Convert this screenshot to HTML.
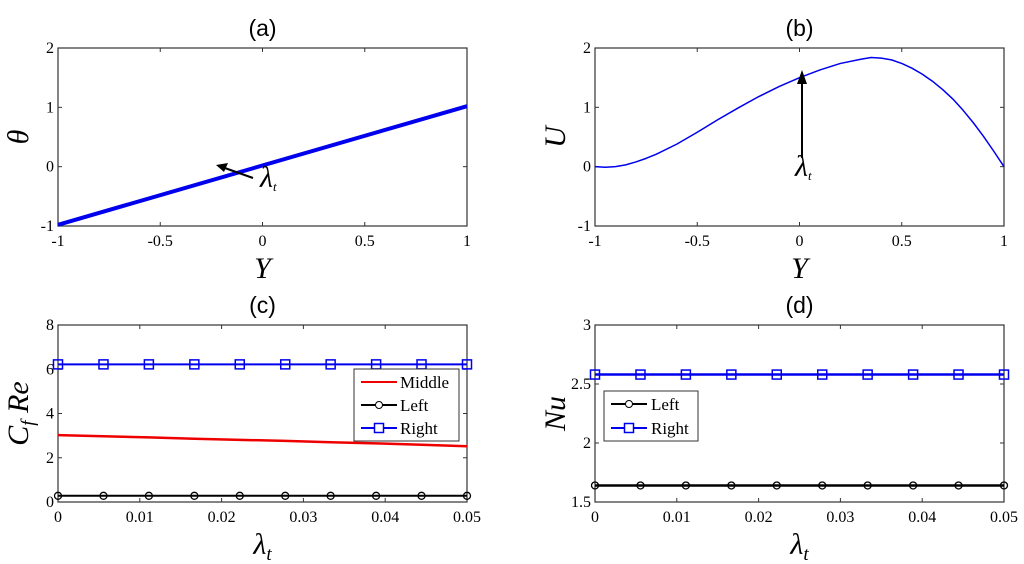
<!DOCTYPE html>
<html><head><meta charset="utf-8"><style>
body{margin:0;background:#fff;}
svg{display:block;}
.tk{font-family:"Liberation Serif",serif;font-size:16px;fill:#000;}
.ttl{font-family:"Liberation Sans",sans-serif;font-size:23px;fill:#000;}
.lab{font-family:"Liberation Serif",serif;font-style:italic;font-size:30px;fill:#000;}
.lg{font-family:"Liberation Serif",serif;font-size:17px;fill:#000;}
</style></head><body>
<svg id="fig" width="1024" height="564" xmlns="http://www.w3.org/2000/svg"></svg>
<script>
const aY=[-1,1];
const aTheta=[-0.98,1.02];
const bY=[-1,-0.95,-0.9,-0.85,-0.8,-0.75,-0.7,-0.6,-0.5,-0.4,-0.3,-0.2,-0.1,0,0.1,0.2,0.3,0.35,0.4,0.45,0.5,0.55,0.6,0.65,0.7,0.75,0.8,0.85,0.9,0.95,1];
const bU=[0,-0.01,0,0.03,0.08,0.14,0.21,0.38,0.58,0.79,0.99,1.18,1.35,1.5,1.63,1.74,1.81,1.84,1.83,1.80,1.74,1.66,1.56,1.44,1.30,1.14,0.95,0.74,0.51,0.26,0];
const lam=[0,0.00556,0.01111,0.01667,0.02222,0.02778,0.03333,0.03889,0.04444,0.05];
const cMiddle=[3.02,2.97,2.92,2.86,2.81,2.76,2.70,2.65,2.59,2.52];
const cLeft=[0.28,0.28,0.28,0.28,0.28,0.28,0.28,0.28,0.28,0.28];
const cRight=[6.22,6.22,6.22,6.22,6.22,6.22,6.22,6.22,6.22,6.22];
const dLeft=[1.64,1.64,1.64,1.64,1.64,1.64,1.64,1.64,1.64,1.64];
const dRight=[2.58,2.58,2.58,2.58,2.58,2.58,2.58,2.58,2.58,2.58];
const xTicksY=[-1,-0.5,0,0.5,1], xTickLabY=["-1","-0.5","0","0.5","1"];
const yTicksAB=[-1,0,1,2], yTickLabAB=["-1","0","1","2"];
const xTicksL=[0,0.01,0.02,0.03,0.04,0.05], xTickLabL=["0","0.01","0.02","0.03","0.04","0.05"];
const yTicksC=[0,2,4,6,8], yTickLabC=["0","2","4","6","8"];
const yTicksD=[1.5,2,2.5,3], yTickLabD=["1.5","2","2.5","3"];

const NS="http://www.w3.org/2000/svg";
const svg=document.getElementById('fig');
function mk(tag,at,parent,txt){const e=document.createElementNS(NS,tag);for(const k in at)e.setAttribute(k,at[k]);if(txt!==undefined)e.textContent=txt;(parent||svg).appendChild(e);return e;}
function axes(name,x0,x1,y0,y1,xd,yd,xt,xl,yt,yl,title,xlab,ylab){
 const g=mk('g',{});
 
 
 const sx=v=>x0+(v-xd[0])/(xd[1]-xd[0])*(x1-x0);
 const sy=v=>y1-(v-yd[0])/(yd[1]-yd[0])*(y1-y0);
 mk('rect',{x:x0,y:y0,width:x1-x0,height:y1-y0,fill:'#fff',stroke:'#333','stroke-width':1.2},g);
 xt.forEach((v,i)=>{const x=sx(v);mk('line',{x1:x,x2:x,y1:y1,y2:y1-4,stroke:'#333'},g);mk('line',{x1:x,x2:x,y1:y0,y2:y0+4,stroke:'#333'},g);
  const t=mk('text',{x:x,y:y1+20,'text-anchor':'middle',class:'tk'},g,xl[i]);});
 yt.forEach((v,i)=>{const y=sy(v);mk('line',{x1:x0,x2:x0+4,y1:y,y2:y,stroke:'#333'},g);mk('line',{x1:x1,x2:x1-4,y1:y,y2:y,stroke:'#333'},g);
  const t=mk('text',{x:x0-4,y:y+5,'text-anchor':'end',class:'tk'},g,yl[i]);});
 const tt=mk('text',{x:(x0+x1)/2,y:y0-12,'text-anchor':'middle',class:'ttl'},g,title);
 
 const xa=mk('text',{x:(x0+x1)/2,y:y1+52,'text-anchor':'middle',class:'lab'},g);xa.innerHTML=xlab;
 
 const ya=mk('text',{x:0,y:0,'text-anchor':'middle',class:'lab',transform:`translate(${x0-30},${(y0+y1)/2}) rotate(-90)`},g);ya.innerHTML=ylab;
 
 return {g,sx,sy};
}
function line(ax,xs,ys,color,w,name){const d=xs.map((v,i)=>(i?'L':'M')+ax.sx(v)+','+ax.sy(ys[i])).join('');
 const p=mk('path',{d:d,fill:'none',stroke:color,'stroke-width':w,'stroke-linejoin':'round'},ax.g);return p;}
function markers(ax,xs,ys,color,type,name){xs.forEach((v,i)=>{const x=ax.sx(v),y=ax.sy(ys[i]);let m;
 if(type==='o')m=mk('circle',{cx:x,cy:y,r:3.5,fill:'none',stroke:color,'stroke-width':1.3},ax.g);
 else m=mk('rect',{x:x-4.5,y:y-4.5,width:9,height:9,fill:'none',stroke:color,'stroke-width':1.5},ax.g);
 });}
const lamT='λ<tspan font-size="19" dy="6">t</tspan>';
// (a)
const A=axes('panel-a',58,467,48,226,[-1,1],[-1,2],xTicksY,xTickLabY,yTicksAB,yTickLabAB,'(a)','Y','θ');
line(A,aY,aTheta,'#0000ee',4,'theta-curve');
mk('line',{x1:253,y1:178,x2:222,y2:167,stroke:'#000','stroke-width':2},A.g);
mk('path',{d:'M216,165 L228,163 L224,172 Z',fill:'#000'},A.g);
const la=mk('text',{x:260,y:187,class:'lab','font-size':'18'},A.g);la.innerHTML='λ<tspan font-size="13" dy="4">t</tspan>';
// (b)
const B=axes('panel-b',595,1004,48,226,[-1,1],[-1,2],xTicksY,xTickLabY,yTicksAB,yTickLabAB,'(b)','Y','U');
line(B,bY,bU,'#0000ee',1.5,'u-curve');
mk('line',{x1:802,y1:158,x2:802,y2:82,stroke:'#000','stroke-width':2},B.g);
mk('path',{d:'M802,70 L797,84 L807,84 Z',fill:'#000'},B.g);
const lb=mk('text',{x:795,y:176,class:'lab','font-size':'18'},B.g);lb.innerHTML='λ<tspan font-size="13" dy="4">t</tspan>';
// (c)
const C=axes('panel-c',58,467,325,502,[0,0.05],[0,8],xTicksL,xTickLabL,yTicksC,yTickLabC,'(c)',lamT,'C<tspan font-size="19" dy="6">f</tspan><tspan dy="-6"> Re</tspan>');
line(C,lam,cMiddle,'#ee0000',2.5,'middle-line');
line(C,lam,cLeft,'#000',2,'left-line');markers(C,lam,cLeft,'#000','o','left-marker');
line(C,lam,cRight,'#0000ee',2,'right-line');markers(C,lam,cRight,'#0000ee','s','right-marker');
const lc=mk('g',{},C.g);
mk('rect',{x:354,y:369,width:105,height:72,fill:'#fff',stroke:'#333'},lc);
mk('line',{x1:361,x2:397,y1:382,y2:382,stroke:'#e00','stroke-width':2},lc);mk('text',{x:400,y:388,class:'lg'},lc,'Middle');
mk('line',{x1:361,x2:397,y1:405,y2:405,stroke:'#000','stroke-width':2},lc);mk('circle',{cx:379,cy:405,r:3.5,fill:'#fff',stroke:'#000'},lc);mk('text',{x:400,y:411,class:'lg'},lc,'Left');
mk('line',{x1:361,x2:397,y1:428,y2:428,stroke:'#00e','stroke-width':2},lc);mk('rect',{x:374.5,y:423.5,width:9,height:9,fill:'#fff',stroke:'#00e','stroke-width':1.5},lc);mk('text',{x:400,y:434,class:'lg'},lc,'Right');
// (d)
const D=axes('panel-d',595,1004,325,502,[0,0.05],[1.5,3],xTicksL,xTickLabL,yTicksD,yTickLabD,'(d)',lamT,'Nu');
line(D,lam,dRight,'#0000ee',2.5,'right-line');markers(D,lam,dRight,'#0000ee','s','right-marker');
line(D,lam,dLeft,'#000',2.5,'left-line');markers(D,lam,dLeft,'#000','o','left-marker');
const ld=mk('g',{},D.g);
mk('rect',{x:604,y:391,width:94,height:50,fill:'#fff',stroke:'#333'},ld);
mk('line',{x1:611,x2:647,y1:404,y2:404,stroke:'#000','stroke-width':2},ld);mk('circle',{cx:629,cy:404,r:3.5,fill:'#fff',stroke:'#000'},ld);mk('text',{x:651,y:410,class:'lg'},ld,'Left');
mk('line',{x1:611,x2:647,y1:428,y2:428,stroke:'#00e','stroke-width':2},ld);mk('rect',{x:624.5,y:423.5,width:9,height:9,fill:'#fff',stroke:'#00e','stroke-width':1.5},ld);mk('text',{x:651,y:434,class:'lg'},ld,'Right');
</script>
</body></html>
